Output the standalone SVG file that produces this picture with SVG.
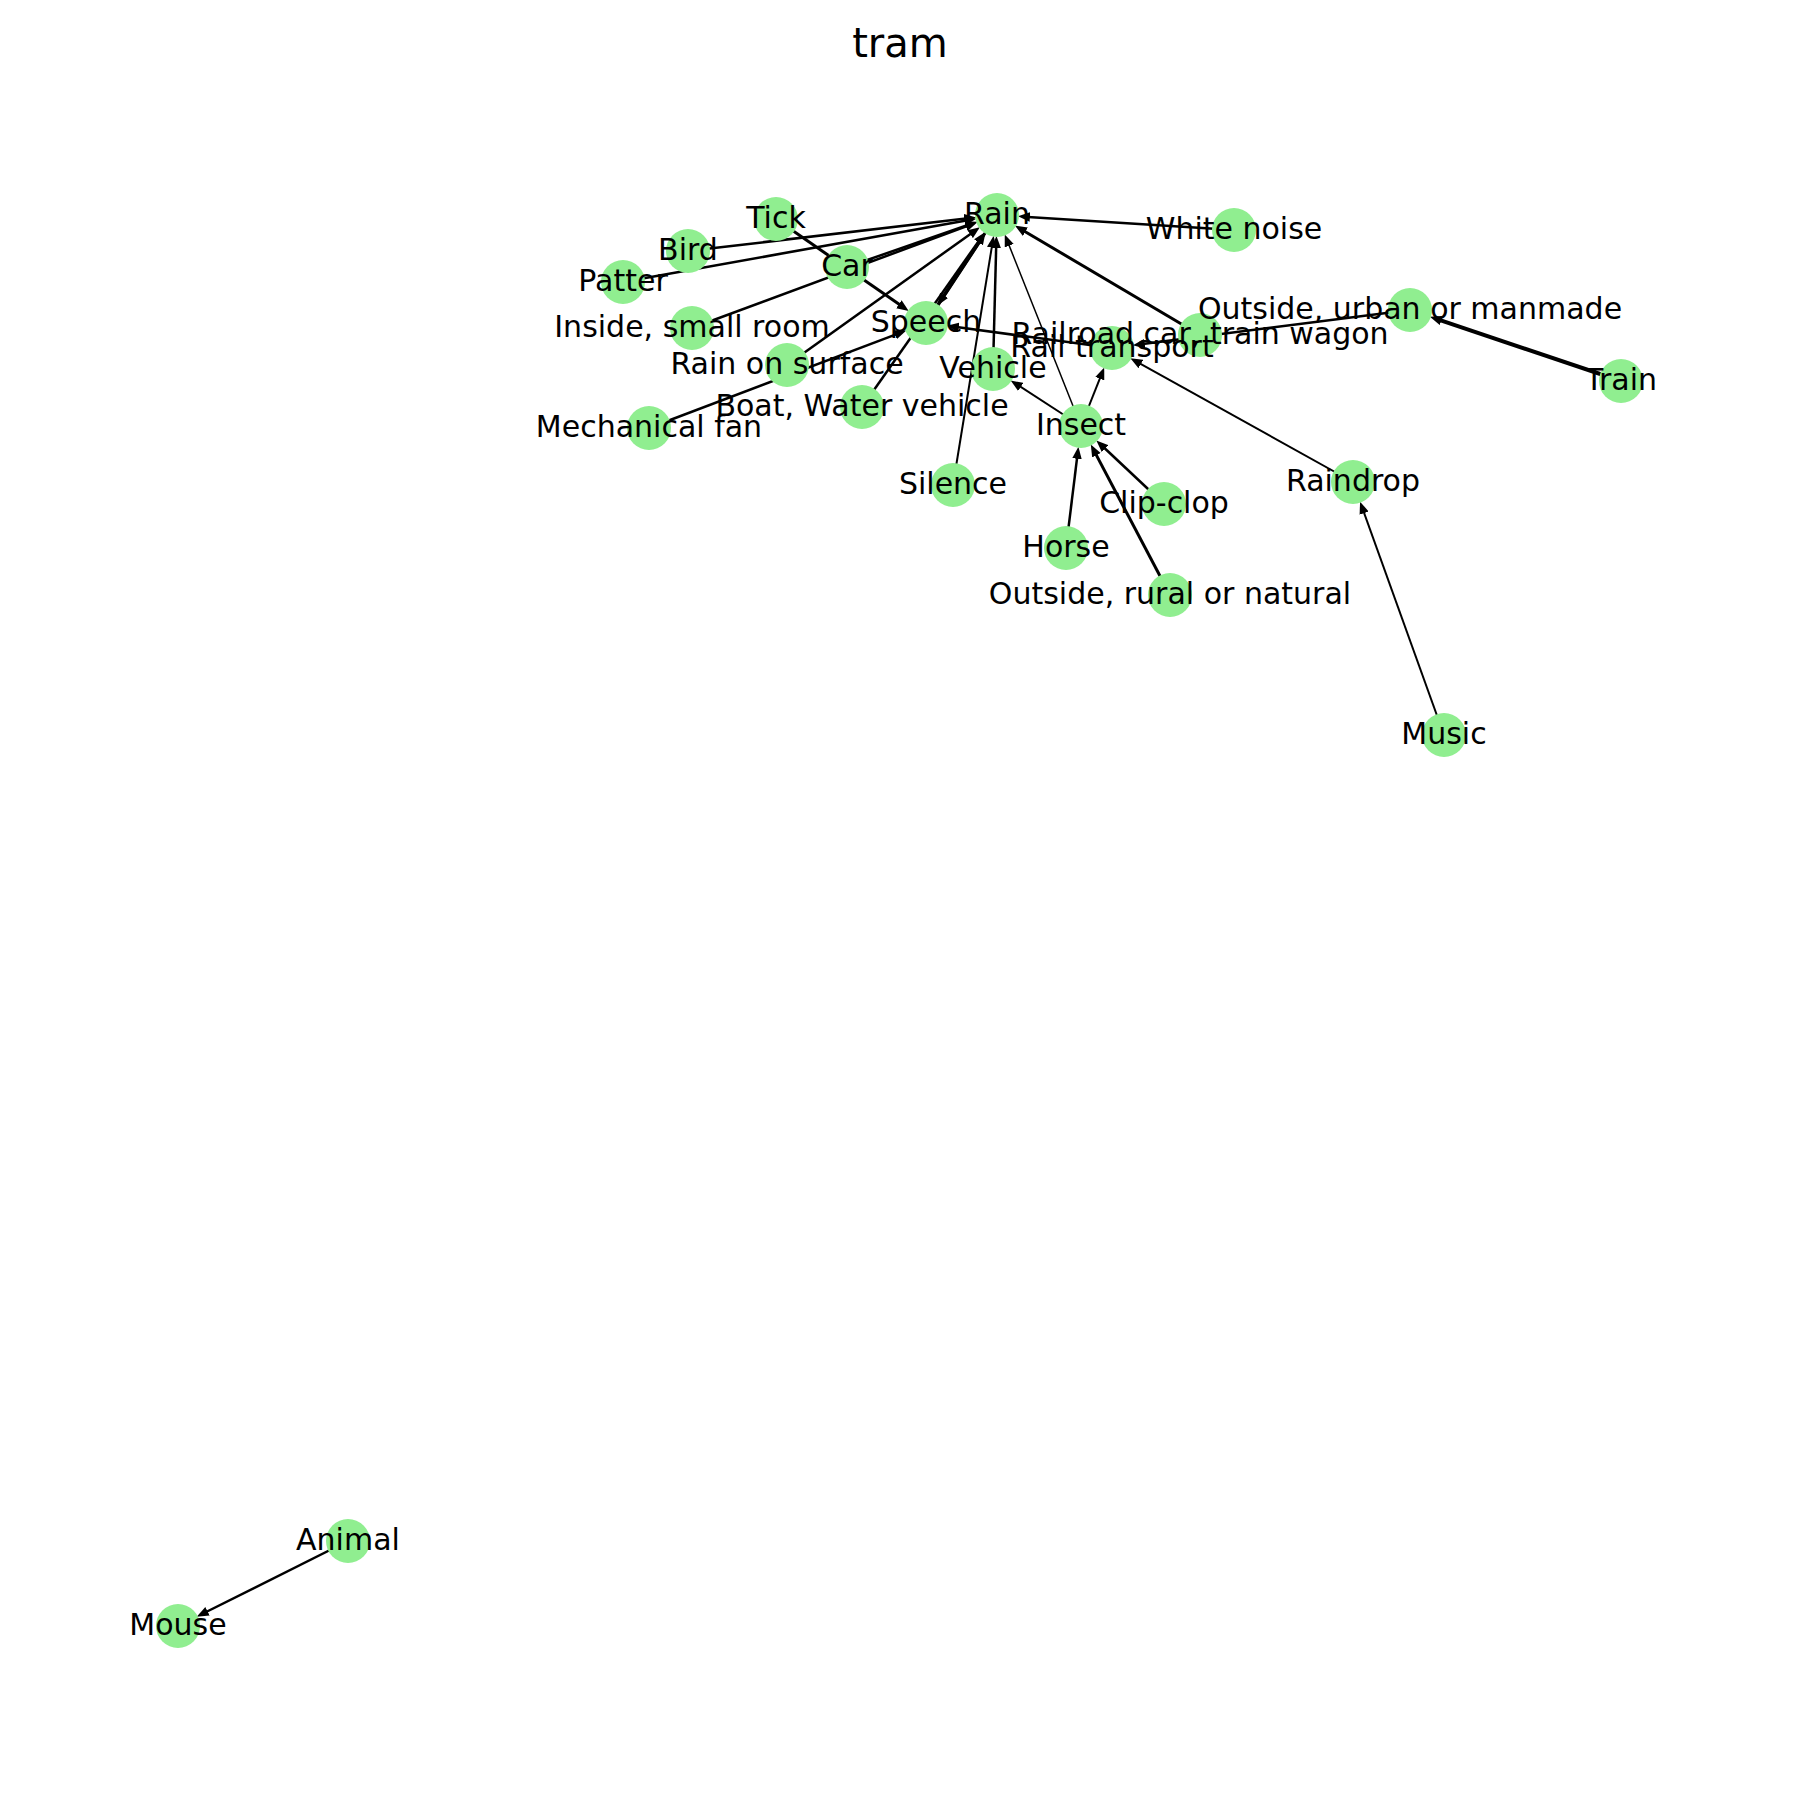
<svg xmlns="http://www.w3.org/2000/svg" width="1800" height="1800" viewBox="0 0 1800 1800">
<defs>
<style>
.n{fill:#90EE90;}
.t{font-family:"DejaVu Sans","Liberation Sans",sans-serif;font-size:30px;fill:#000;text-anchor:middle;}
.e{stroke:#000;fill:none;marker-end:url(#ah);}
.title{font-family:"DejaVu Sans","Liberation Sans",sans-serif;font-size:40px;fill:#000;text-anchor:middle;}
</style>
<marker id="ah" markerUnits="userSpaceOnUse" markerWidth="12" markerHeight="10" refX="5" refY="4" orient="auto" viewBox="0 0 10 8">
<path d="M0,0 L10,4 L0,8 z" fill="#000"/>
</marker>
</defs>
<rect width="1800" height="1800" fill="#fff"/>
<text class="title" x="900" y="57">tram</text>
<g id="edges">
<line class="e" stroke-width="2.5" x1="688" y1="251" x2="970.2" y2="218.1"/>
<line class="e" stroke-width="2.5" x1="623" y1="282" x2="970.4" y2="219.8"/>
<line class="e" stroke-width="2.5" x1="847" y1="267" x2="971.5" y2="223.8"/>
<line class="e" stroke-width="2.5" x1="692" y1="328" x2="971.7" y2="224.4"/>
<line class="e" stroke-width="2.5" x1="787" y1="365" x2="975.0" y2="230.7"/>
<line class="e" stroke-width="3.5" x1="926" y1="323" x2="982.2" y2="237.6"/>
<line class="e" stroke-width="3" x1="997" y1="215" x2="940.8" y2="300.4"/>
<line class="e" stroke-width="2.5" x1="862" y1="407" x2="981.5" y2="237.1"/>
<line class="e" stroke-width="2" x1="953" y1="485" x2="992.7" y2="241.6"/>
<line class="e" stroke-width="2.5" x1="993" y1="369" x2="996.3" y2="242.0"/>
<line class="e" stroke-width="1.5" x1="1081" y1="426" x2="1007.0" y2="240.1"/>
<line class="e" stroke-width="3" x1="1200" y1="335" x2="1020.2" y2="228.7"/>
<line class="e" stroke-width="2.5" x1="1234" y1="230" x2="1023.9" y2="216.7"/>
<line class="e" stroke-width="3" x1="776" y1="219" x2="903.8" y2="307.6"/>
<line class="e" stroke-width="2.5" x1="649" y1="428" x2="900.7" y2="332.6"/>
<line class="e" stroke-width="2.5" x1="1112" y1="348" x2="952.8" y2="326.6"/>
<line class="e" stroke-width="2" x1="1081" y1="426" x2="1015.7" y2="383.7"/>
<line class="e" stroke-width="2" x1="1081" y1="426" x2="1102.0" y2="373.1"/>
<line class="e" stroke-width="2.5" x1="1410" y1="310" x2="1138.8" y2="344.6"/>
<line class="e" stroke-width="2" x1="1353" y1="482" x2="1135.6" y2="361.1"/>
<line class="e" stroke-width="4" x1="1621" y1="381" x2="1435.6" y2="318.6"/>
<line class="e" stroke-width="2" x1="1444" y1="735" x2="1362.1" y2="507.4"/>
<line class="e" stroke-width="2.5" x1="1066" y1="548" x2="1077.7" y2="452.8"/>
<line class="e" stroke-width="2.5" x1="1164" y1="504" x2="1100.7" y2="444.5"/>
<line class="e" stroke-width="3" x1="1170" y1="595" x2="1093.6" y2="449.9"/>
<line class="e" stroke-width="2.5" x1="348" y1="1541" x2="202.1" y2="1614.0"/>
</g>
<g id="node-rain"><circle class="n" cx="997" cy="215" r="22"/></g>
<g id="node-tick"><circle class="n" cx="776" cy="219" r="22"/></g>
<g id="node-bird"><circle class="n" cx="688" cy="251" r="22"/></g>
<g id="node-patter"><circle class="n" cx="623" cy="282" r="22"/></g>
<g id="node-car"><circle class="n" cx="847" cy="267" r="22"/></g>
<g id="node-speech"><circle class="n" cx="926" cy="323" r="22"/></g>
<g id="node-inside-small-room"><circle class="n" cx="692" cy="328" r="22"/></g>
<g id="node-rain-on-surface"><circle class="n" cx="787" cy="365" r="22"/></g>
<g id="node-boat"><circle class="n" cx="862" cy="407" r="22"/></g>
<g id="node-mechanical-fan"><circle class="n" cx="649" cy="428" r="22"/></g>
<g id="node-vehicle"><circle class="n" cx="993" cy="369" r="22"/></g>
<g id="node-silence"><circle class="n" cx="953" cy="485" r="22"/></g>
<g id="node-insect"><circle class="n" cx="1081" cy="426" r="22"/></g>
<g id="node-rail-transport"><circle class="n" cx="1112" cy="348" r="22"/></g>
<g id="node-railroad-car"><circle class="n" cx="1200" cy="335" r="22"/></g>
<g id="node-outside-urban"><circle class="n" cx="1410" cy="310" r="22"/></g>
<g id="node-train"><circle class="n" cx="1621" cy="381" r="22"/></g>
<g id="node-white-noise"><circle class="n" cx="1234" cy="230" r="22"/></g>
<g id="node-raindrop"><circle class="n" cx="1353" cy="482" r="22"/></g>
<g id="node-music"><circle class="n" cx="1444" cy="735" r="22"/></g>
<g id="node-clip-clop"><circle class="n" cx="1164" cy="504" r="22"/></g>
<g id="node-horse"><circle class="n" cx="1066" cy="548" r="22"/></g>
<g id="node-outside-rural"><circle class="n" cx="1170" cy="595" r="22"/></g>
<g id="node-animal"><circle class="n" cx="348" cy="1541" r="22"/></g>
<g id="node-mouse"><circle class="n" cx="178" cy="1626" r="22"/></g>
<g id="labels">
<text class="t" x="997" y="223.5">Rain</text>
<text class="t" x="776" y="227.5">Tick</text>
<text class="t" x="688" y="259.5">Bird</text>
<text class="t" x="623" y="290.5">Patter</text>
<text class="t" x="847" y="275.5">Car</text>
<text class="t" x="926" y="331.5">Speech</text>
<text class="t" x="692" y="336.5">Inside, small room</text>
<text class="t" x="787" y="373.5">Rain on surface</text>
<text class="t" x="862" y="415.5">Boat, Water vehicle</text>
<text class="t" x="649" y="436.5">Mechanical fan</text>
<text class="t" x="993" y="377.5">Vehicle</text>
<text class="t" x="953" y="493.5">Silence</text>
<text class="t" x="1081" y="434.5">Insect</text>
<text class="t" x="1112" y="356.5">Rail transport</text>
<text class="t" x="1200" y="343.5">Railroad car, train wagon</text>
<text class="t" x="1410" y="318.5">Outside, urban or manmade</text>
<text class="t" x="1621" y="389.5">Train</text>
<text class="t" x="1234" y="238.5">White noise</text>
<text class="t" x="1353" y="490.5">Raindrop</text>
<text class="t" x="1444" y="743.5">Music</text>
<text class="t" x="1164" y="512.5">Clip-clop</text>
<text class="t" x="1066" y="556.5">Horse</text>
<text class="t" x="1170" y="603.5">Outside, rural or natural</text>
<text class="t" x="348" y="1549.5">Animal</text>
<text class="t" x="178" y="1634.5">Mouse</text>
</g>
</svg>
